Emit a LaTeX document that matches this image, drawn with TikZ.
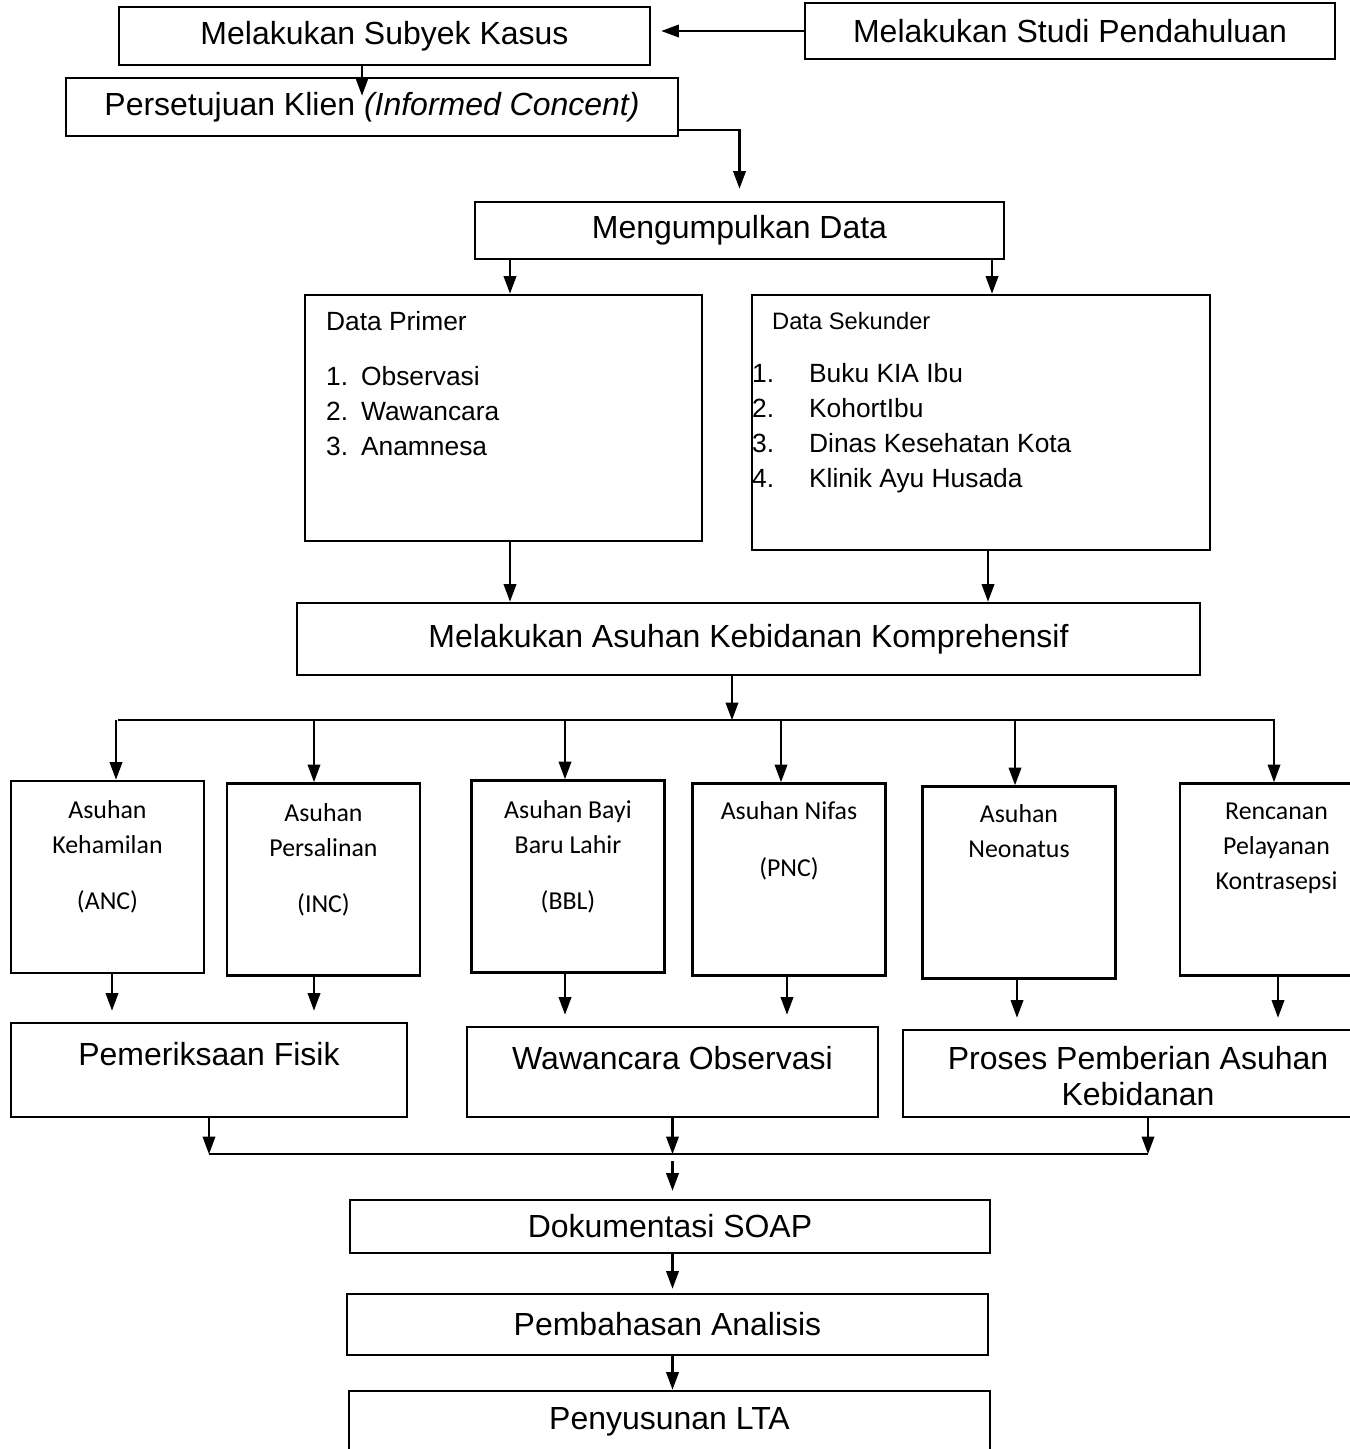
\documentclass[tikz,border=0pt]{standalone}
\usepackage{fontspec}
\setmainfont{Liberation Sans}
\newfontfamily\calibrifont{Carlito}
\usetikzlibrary{arrows.meta,positioning}

\begin{document}
\begin{tikzpicture}[
  >=Triangle,
  box/.style={rectangle, draw=black, line width=1.4pt, inner sep=0pt, align=center,
              font=\fontsize{18.2}{21.8}\selectfont},
  datbox/.style={rectangle, draw=black, line width=1.4pt, inner sep=0pt},
  asuhan/.style={rectangle, draw=black, line width=1.4pt, inner sep=0pt,
                 minimum width=3.86cm, minimum height=3.84cm},
  asuhantext/.style={anchor=north, inner sep=0pt, align=center,
                 font=\calibrifont\fontsize{14.7}{19.9}\selectfont},
  listtext/.style={anchor=north west, inner sep=0pt, align=left,
                 font=\fontsize{15}{19.9}\selectfont},
  toptext/.style={anchor=north, inner sep=0pt, align=center,
                 font=\fontsize{18.2}{20.5}\selectfont},
  flow/.style={-{Triangle[length=10pt, width=7pt]}, line width=1.4pt},
  bus/.style={line width=1.4pt},
]
\useasboundingbox (0,0) rectangle (27,-28.98);

% ------------------------------------------------------------------ top --
\node[box, minimum width=10.62cm, minimum height=1.16cm] (subyek) at (7.69,-0.72) {Melakukan Subyek Kasus};
\node[box, minimum width=10.6cm, minimum height=1.12cm] (studi) at (21.4,-0.62) {Melakukan Studi Pendahuluan};
\node[box, minimum width=12.24cm, minimum height=1.16cm] (setuju) at (7.44,-2.14)
  {Persetujuan Klien \textit{(Informed Concent)}};
\node[box, minimum width=10.58cm, minimum height=1.14cm] (data) at (14.79,-4.61) {Mengumpulkan Data};

% ----------------------------------------------------------------- data --
\node[datbox, minimum width=7.94cm, minimum height=4.92cm] (primer) at (10.07,-8.36) {};
\node[datbox, minimum width=9.16cm, minimum height=5.1cm] (sekunder) at (19.62,-8.45) {};
\node[listtext] (primertext) at ([xshift=0.44cm, yshift=-0.35cm]primer.north west)
  {Data Primer\\[11.4pt]
   \makebox[0.7cm][l]{1.}Observasi\\
   \makebox[0.7cm][l]{2.}Wawancara\\
   \makebox[0.7cm][l]{3.}Anamnesa};
\node[listtext] (sekundertext) at ([xshift=0.02cm, yshift=-0.36cm]sekunder.north west)
  {\hspace*{0.4cm}{\fontsize{13.5}{16}\selectfont Data Sekunder}\\[10.3pt]
   \makebox[1.14cm][l]{1.}Buku KIA Ibu\\
   \makebox[1.14cm][l]{2.}KohortIbu\\
   \makebox[1.14cm][l]{3.}Dinas Kesehatan Kota\\
   \makebox[1.14cm][l]{4.}Klinik Ayu Husada};

\node[box, minimum width=18.06cm, minimum height=1.44cm] (kompre) at (14.97,-12.78)
  {Melakukan Asuhan Kebidanan Komprehensif};

% --------------------------------------------------------------- asuhan --
\node[asuhan] (anc) at (2.15,-17.54) {};
\node[asuhan] (inc) at (6.47,-17.59) {};
\node[asuhan] (bbl) at (11.36,-17.53) {};
\node[asuhan] (pnc) at (15.78,-17.59) {};
\node[asuhan] (neo) at (20.38,-17.65) {};
\node[asuhan] (kon) at (25.53,-17.59) {};
\node[asuhantext] (anctext) at ([yshift=-0.41cm]anc.north) {Asuhan\\Kehamilan\\[12pt](ANC)};
\node[asuhantext] (inctext) at ([yshift=-0.41cm]inc.north) {Asuhan\\Persalinan\\[12pt](INC)};
\node[asuhantext] (bbltext) at ([yshift=-0.41cm]bbl.north) {Asuhan Bayi\\Baru Lahir\\[12pt](BBL)};
\node[asuhantext] (pnctext) at ([yshift=-0.38cm]pnc.north) {Asuhan Nifas\\[12.5pt](PNC)};
\node[asuhantext] (neotext) at ([yshift=-0.38cm]neo.north) {Asuhan\\Neonatus};
\node[asuhantext] (kontext) at ([yshift=-0.4cm]kon.north) {Rencanan\\Pelayanan\\Kontrasepsi};

% -------------------------------------------------------------- process --
\node[datbox, minimum width=7.92cm, minimum height=1.88cm] (fisik) at (4.18,-21.4) {};
\node[datbox, minimum width=8.22cm, minimum height=1.8cm] (obs) at (13.45,-21.44) {};
\node[datbox, minimum width=9.4cm, minimum height=1.74cm] (proses) at (22.76,-21.47) {};
\node[toptext] (fisiktext) at ([yshift=-0.4cm]fisik.north) {Pemeriksaan Fisik};
\node[toptext] (obstext) at ([yshift=-0.4cm]obs.north) {Wawancara Observasi};
\node[toptext] (prosestext) at ([yshift=-0.35cm]proses.north) {Proses Pemberian Asuhan\\Kebidanan};

% --------------------------------------------------------------- bottom --
\node[box, minimum width=12.8cm, minimum height=1.06cm] (soap) at (13.4,-24.53) {Dokumentasi SOAP};
\node[box, minimum width=12.82cm, minimum height=1.22cm] (analisis) at (13.35,-26.49) {Pembahasan Analisis};
\node[box, minimum width=12.82cm, minimum height=1.24cm] (lta) at (13.39,-28.44) {Penyusunan LTA};

% ----------------------------------------------------------- main flow --
\draw[flow, shorten >=0.2cm] ([yshift=0.1cm]subyek.east -| studi.west) -- ([yshift=0.1cm]subyek.east);
\draw[flow] ([xshift=-0.45cm]subyek.south) -- ([xshift=-0.45cm, yshift=-0.38cm]subyek.south |- setuju.north);
\draw[flow, shorten >=0.24cm] ([yshift=-0.46cm]setuju.east) -| (data.north);
\draw[flow] ([xshift=0.13cm]primer.north |- data.south) -- ([xshift=0.13cm]primer.north);
\draw[flow] ([xshift=0.22cm]sekunder.north |- data.south) -- ([xshift=0.22cm]sekunder.north);
\draw[flow] ([xshift=0.13cm]primer.south) -- ([xshift=0.13cm]primer.south |- kompre.north);
\draw[flow] ([xshift=0.14cm]sekunder.south) -- ([xshift=0.14cm]sekunder.south |- kompre.north);

% ------------------------------------------------------------ branches --
\coordinate (bus) at ([xshift=-0.33cm, yshift=-0.88cm]kompre.south);
\draw[flow] ([xshift=-0.33cm]kompre.south) -- (bus);
\draw[bus] ([xshift=0.21cm]anc.north |- bus) -- ([xshift=-0.03cm]kon.north |- bus);
\foreach \n/\dx in {anc/0.17, inc/-0.19, bbl/-0.06, pnc/-0.16, neo/-0.08, kon/-0.05}
  \draw[flow] ([xshift=\dx cm]\n.north |- bus) -- ([xshift=\dx cm]\n.north);
\foreach \n/\dx/\m in {anc/0.09/fisik, inc/-0.19/fisik, bbl/-0.06/obs, pnc/-0.04/obs, neo/-0.04/proses, kon/0.03/proses}
  \draw[flow, shorten >=0.22cm] ([xshift=\dx cm]\n.south) -- ([xshift=\dx cm]\n.south |- \m.north);

% --------------------------------------------------------------- merge --
\coordinate (bus2) at ([yshift=-0.72cm]obs.south);
\draw[flow] (fisik.south) -- (fisik.south |- bus2);
\draw[flow] (obs.south) -- (bus2);
\draw[flow] ([xshift=0.2cm]proses.south) -- ([xshift=0.2cm]proses.south |- bus2);
\draw[bus] (fisik.south |- bus2) -- ([xshift=0.2cm]proses.south |- bus2);
\draw[flow, shorten <=0.14cm, shorten >=0.16cm] (bus2) -- (bus2 |- soap.north);
\draw[flow, shorten >=0.08cm] (bus2 |- soap.south) -- (bus2 |- analisis.north);
\draw[flow] (bus2 |- analisis.south) -- (bus2 |- lta.north);

\end{tikzpicture}
\end{document}
